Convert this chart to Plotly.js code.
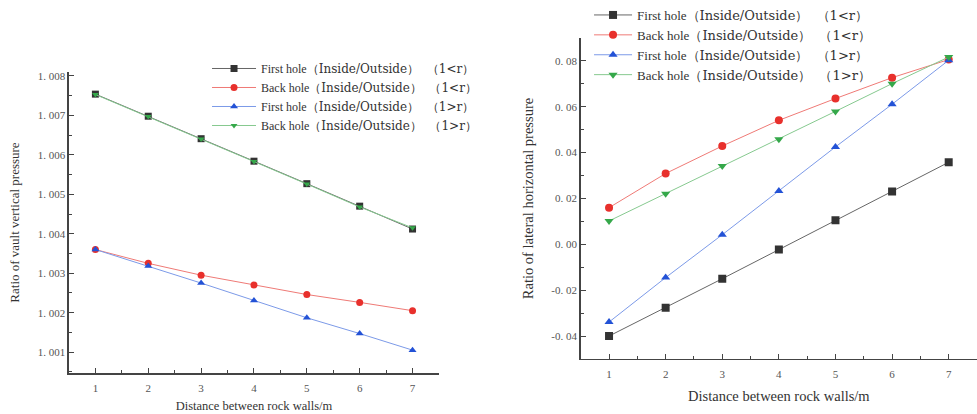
<!DOCTYPE html>
<html><head><meta charset="utf-8">
<script src="https://cdn.plot.ly/plotly-3.0.1.min.js"></script>
<style>html,body{margin:0;padding:0;background:#fff}#chart{width:977px;height:414px}</style>
</head><body><div id="chart"></div>
<script>
const distance = [1, 2, 3, 4, 5, 6, 7];
// Left chart: ratio of vault vertical pressure
const vaultFirstLt = [1.00754, 1.00698, 1.00641, 1.00584, 1.00527, 1.00470, 1.00412];
const vaultBackLt  = [1.00360, 1.00325, 1.00295, 1.00270, 1.00246, 1.00226, 1.00205];
const vaultFirstGt = [1.00360, 1.00318, 1.00275, 1.00231, 1.00187, 1.00147, 1.00105];
const vaultBackGt  = [1.00753, 1.00697, 1.00640, 1.00583, 1.00526, 1.00468, 1.00415];
const vaultTickVals = [1.001, 1.002, 1.003, 1.004, 1.005, 1.006, 1.007, 1.008];
const vaultTickText = ['1. 001', '1. 002', '1. 003', '1. 004', '1. 005', '1. 006', '1. 007', '1. 008'];
// Right chart: ratio of lateral horizontal pressure
const latFirstLt = [-0.0400, -0.0276, -0.0150, -0.0023, 0.0105, 0.0231, 0.0358];
const latBackLt  = [0.0160, 0.0309, 0.0429, 0.0541, 0.0636, 0.0727, 0.0806];
const latFirstGt = [-0.0339, -0.0145, 0.0042, 0.0233, 0.0425, 0.0611, 0.0803];
const latBackGt  = [0.0102, 0.0221, 0.0342, 0.0458, 0.0580, 0.0701, 0.0817];
const latTickVals = [-0.04, -0.02, 0, 0.02, 0.04, 0.06, 0.08];
const latTickText = ['-0. 04', '-0. 02', '0. 00', '0. 02', '0. 04', '0. 06', '0. 08'];

const holeNames = ['First hole', 'Back hole', 'First hole', 'Back hole'];
const conditionNames = ['（1&lt;r）', '（1&lt;r）', '（1&gt;r）', '（1&gt;r）'];
const wide = '<span style="font-family:\'DejaVu Serif\'">';
const seriesNames = holeNames.map((h, i) =>
  h + wide + '（Inside/Outside）\u00a0\u00a0' + conditionNames[i] + '</span>');

const markerSymbols = ['square', 'circle', 'triangle-up', 'triangle-down'];
const markerColors = ['#333333', '#e8302c', '#2352d6', '#35a84a'];
const lineColors = ['#666666', '#ef7a76', '#7c9ae8', '#86c98f'];

const FONT = 'Liberation Serif, DejaVu Serif, serif';

function mk(x, y, i, xa, ya, lg, size) {
  return {
    x: x, y: y, name: seriesNames[i], type: 'scatter', mode: 'lines+markers',
    xaxis: xa, yaxis: ya, legend: lg,
    line: {color: lineColors[i], width: 1},
    marker: {symbol: markerSymbols[i], color: markerColors[i], size: size}
  };
}

const data = [
  mk(distance, vaultFirstLt, 0, 'x', 'y', 'legend', 7),
  mk(distance, vaultBackLt, 1, 'x', 'y', 'legend', 7),
  mk(distance, vaultFirstGt, 2, 'x', 'y', 'legend', 7),
  mk(distance, vaultBackGt, 3, 'x', 'y', 'legend', 6),
  mk(distance, latFirstLt, 0, 'x2', 'y2', 'legend2', 8),
  mk(distance, latBackLt, 1, 'x2', 'y2', 'legend2', 8),
  mk(distance, latFirstGt, 2, 'x2', 'y2', 'legend2', 8),
  mk(distance, latBackGt, 3, 'x2', 'y2', 'legend2', 8)
];

const axisCommon = {
  showline: true, linecolor: '#444', linewidth: 1.5,
  ticks: 'inside', ticklen: 5, tickwidth: 1, tickcolor: '#444',
  showgrid: false, zeroline: false, mirror: false,
  tickfont: {size: 11, color: '#555', family: FONT}
};

const layout = {
  width: 977, height: 414,
  margin: {l: 0, r: 0, t: 0, b: 0},
  paper_bgcolor: '#fff', plot_bgcolor: '#fff',
  font: {family: FONT, color: '#333'},
  showlegend: true,
  xaxis: Object.assign({}, axisCommon, {
    domain: [0.0706, 0.4493], range: [0.5, 7.5], dtick: 1, anchor: 'y',
    ticklabelstandoff: 4,
    minor: {dtick: 0.5, ticks: 'inside', ticklen: 3, tickcolor: '#444', showgrid: false},
    title: {text: 'Distance between rock walls/m', font: {size: 12.5, color: '#333', family: FONT}, standoff: 8}
  }),
  yaxis: Object.assign({}, axisCommon, {
    domain: [0.099, 0.826], range: [1.00047, 1.0081], anchor: 'x',
    tickmode: 'array', tickvals: vaultTickVals, ticktext: vaultTickText,
    minor: {tickmode: 'linear', tick0: 1.0005, dtick: 0.0005, ticks: 'inside', ticklen: 3, tickcolor: '#444', showgrid: false},
    title: {text: 'Ratio of vault vertical pressure', font: {size: 13, color: '#333', family: FONT}, standoff: 15}
  }),
  xaxis2: Object.assign({}, axisCommon, {
    domain: [0.5944, 1.0], range: [0.5, 7.5], dtick: 1, anchor: 'y2',
    ticklabelstandoff: 4,
    minor: {dtick: 0.5, ticks: 'inside', ticklen: 3, tickcolor: '#444', showgrid: false},
    title: {text: 'Distance between rock walls/m', font: {size: 14.5, color: '#333', family: FONT}, standoff: 12}
  }),
  yaxis2: Object.assign({}, axisCommon, {
    domain: [0.1329, 0.9082], range: [-0.05, 0.09], anchor: 'x2',
    tickmode: 'array', tickvals: latTickVals, ticktext: latTickText,
    minor: {tickmode: 'linear', tick0: 0, dtick: 0.01, ticks: 'inside', ticklen: 3, tickcolor: '#444', showgrid: false},
    title: {text: 'Ratio of lateral horizontal pressure', font: {size: 14.5, color: '#333', family: FONT}, standoff: 14}
  }),
  legend: {
    x: 0.2119, y: 0.8696, xanchor: 'left', yanchor: 'top',
    itemwidth: 44,
    bgcolor: 'rgba(0,0,0,0)', borderwidth: 0,
    font: {size: 12, color: '#333', family: FONT}
  },
  legend2: {
    x: 0.6029, y: 1.0, xanchor: 'left', yanchor: 'top',
    itemwidth: 38,
    bgcolor: 'rgba(0,0,0,0)', borderwidth: 0,
    font: {size: 13, color: '#333', family: FONT}
  }
};

Plotly.newPlot('chart', data, layout, {displayModeBar: false, staticPlot: true});
</script>
</body></html>
